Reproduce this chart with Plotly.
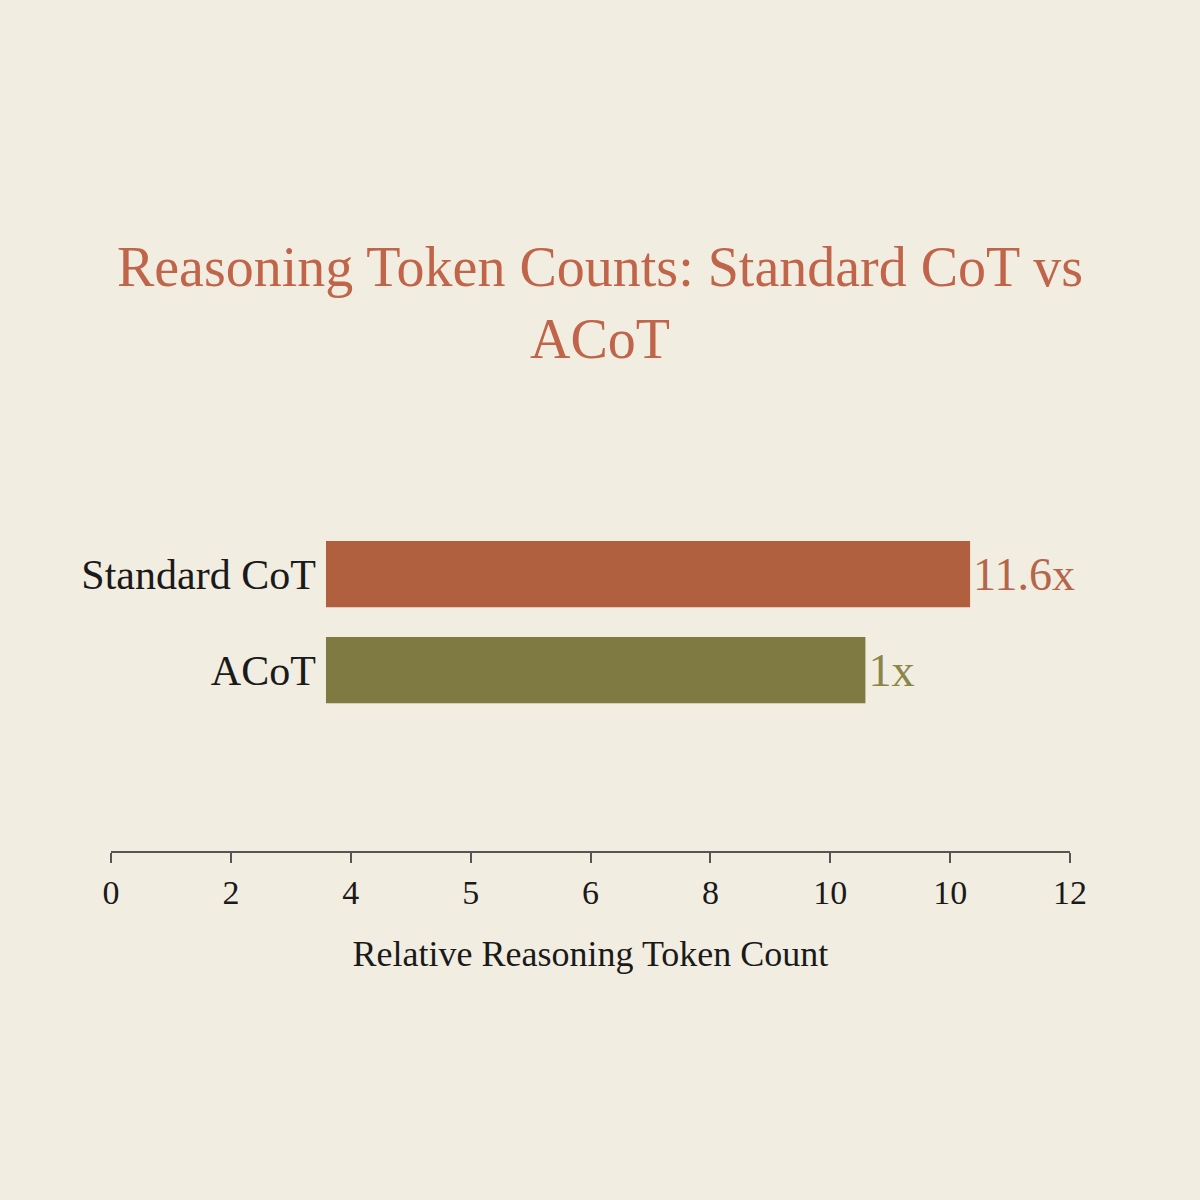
import plotly.graph_objects as go

# data
categories = ["ACoT", "Standard CoT"]
bar_start = [2.69, 2.69]
bar_end = [9.44, 10.75]
bar_labels = ["1x", "11.6x"]
bar_colors = ["#7e7a41", "#b0603e"]
label_colors = ["#8a8648", "#b5654a"]

tick_vals = [0, 1.5, 3, 4.5, 6, 7.5, 9, 10.5, 12]
tick_text = ["0", "2", "4", "5", "6", "8", "10", "10", "12"]

serif = "Liberation Serif, Times New Roman, serif"

fig = go.Figure()
fig.add_trace(go.Bar(
    y=categories,
    x=[e - s for s, e in zip(bar_start, bar_end)],
    base=bar_start,
    orientation="h",
    marker=dict(color=bar_colors, line=dict(width=0)),
    text=bar_labels,
    textposition="outside",
    textfont=dict(family=serif, size=46, color=label_colors),
    cliponaxis=False,
    hoverinfo="skip",
))

fig.update_layout(
    width=1200,
    height=1200,
    paper_bgcolor="#f2ede1",
    plot_bgcolor="#f2ede1",
    margin=dict(l=111, r=130, t=430, b=349, autoexpand=False),
    bargap=0.31,
    showlegend=False,
    title=dict(
        text="Reasoning Token Counts: Standard CoT vs<br>ACoT",
        x=0.5, xanchor="center",
        y=0.762, yanchor="top",
        font=dict(family=serif, size=56, color="#c0654a"),
    ),
    font=dict(family=serif, color="#1a1a1a"),
)

fig.update_xaxes(
    range=[0, 12],
    tickvals=tick_vals,
    ticktext=tick_text,
    automargin=False,
    showgrid=False,
    zeroline=False,
    showline=True,
    linecolor="#555555",
    linewidth=2,
    ticks="outside",
    ticklen=10,
    tickwidth=2,
    tickcolor="#555555",
    tickfont=dict(family=serif, size=34, color="#1a1a1a"),
    title=dict(text="Relative Reasoning Token Count",
               font=dict(family=serif, size=36, color="#1a1a1a"), standoff=31),
)

fig.update_yaxes(
    range=[-1.885, 2.5],
    anchor="free",
    position=0.224,
    automargin=False,
    showgrid=False,
    zeroline=False,
    showline=False,
    ticks="",
    ticklabelstandoff=10,
    tickfont=dict(family=serif, size=42, color="#1a1a1a"),
)

fig.write_html("out.html", config={"displayModeBar": False},
               post_script="document.body.style.margin='0';")
